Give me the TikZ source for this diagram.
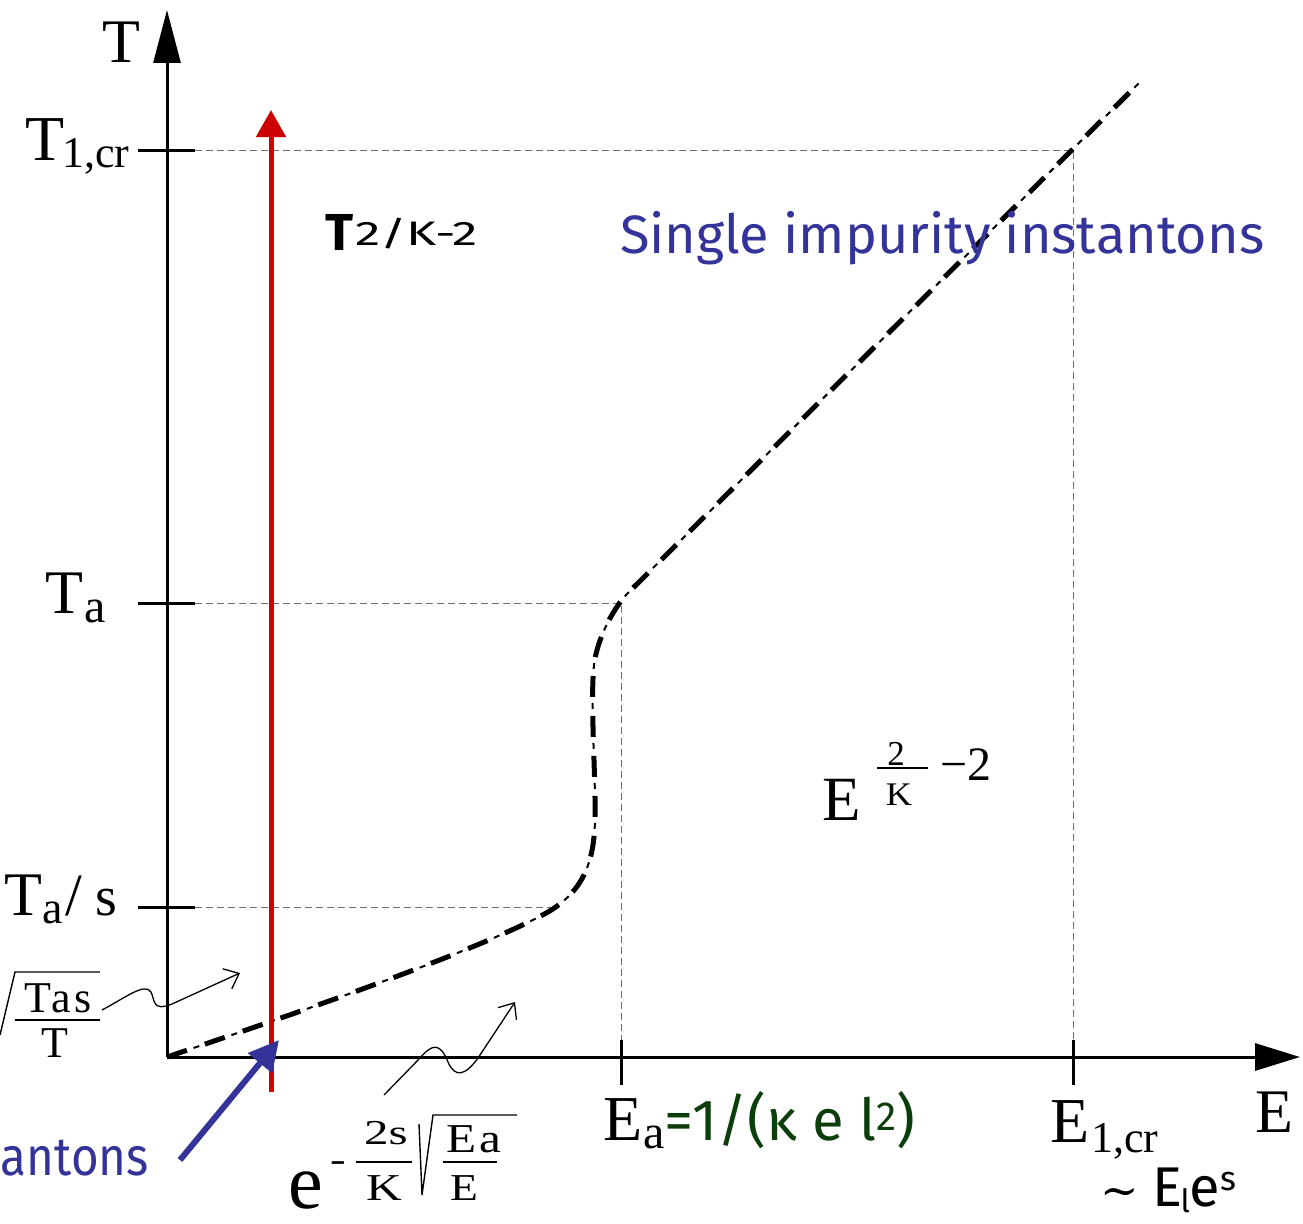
\documentclass[tikz,border=0pt]{standalone}
\usepackage{fontspec}
\setmainfont{Liberation Serif}
\newfontfamily\comic{Fira Sans}
\newfontfamily\dejaser{DejaVu Serif}
\usetikzlibrary{arrows.meta}
\definecolor{myblue}{RGB}{51,51,153}
\definecolor{myred}{RGB}{204,0,0}
\definecolor{mygreen}{RGB}{12,62,12}
\definecolor{guide}{RGB}{110,110,110}
\newcommand\fs[1]{\fontsize{#1}{#1}\selectfont}
\begin{document}
\begin{tikzpicture}[x=1pt,y=-1pt,
  lbl/.style={inner sep=0pt, outer sep=0pt},
  guideline/.style={guide, line width=1pt, dash pattern=on 7pt off 4pt},
  tickmark/.style={line width=3pt},
  thinline/.style={line width=1.4pt},
  axisT/.style={line width=3pt, -{Triangle[length=53pt,width=27pt]}},
  axisE/.style={line width=3pt, -{Triangle[length=45pt,width=27pt]}},
  curvethick/.style={line width=5pt, dash pattern=on 21pt off 19pt},
  curvethin/.style={line width=2pt, dash pattern=on 6pt off 34pt, dash phase=12pt},
  squig/.style={line width=1.3pt, -{Straight Barb[length=13pt,width=22pt,line width=1.3pt]}}
]
\useasboundingbox (0,0) rectangle (1303,1223);
\clip (0,0) rectangle (1303,1223);

% axes
\coordinate (O) at (167,1057);
\coordinate (Ttip) at (167,10);
\coordinate (Etip) at (1300,1057);
\draw[axisT] (O) -- (Ttip);
\draw[axisE] (O) -- (Etip);

% guides
\coordinate (g1a) at (195,150); \coordinate (g1b) at (1073,150); \coordinate (g1c) at (1073,1040);
\coordinate (g2a) at (195,603); \coordinate (g2b) at (621,603); \coordinate (g2c) at (621,1040);
\coordinate (g3a) at (195,907); \coordinate (g3b) at (555,907);
\draw[guideline] (g1a) -- (g1b) -- (g1c);
\draw[guideline] (g2a) -- (g2b) -- (g2c);
\draw[guideline] (g3a) -- (g3b);

% ticks
\coordinate (t1a) at (138,150); \coordinate (t1b) at (195,150);
\coordinate (t2a) at (138,603); \coordinate (t2b) at (195,603);
\coordinate (t3a) at (138,907); \coordinate (t3b) at (195,907);
\coordinate (t4a) at (621,1040); \coordinate (t4b) at (621,1085);
\coordinate (t5a) at (1073,1040); \coordinate (t5b) at (1073,1085);
\draw[tickmark] (t1a) -- (t1b);
\draw[tickmark] (t2a) -- (t2b);
\draw[tickmark] (t3a) -- (t3b);
\draw[tickmark] (t4a) -- (t4b);
\draw[tickmark] (t5a) -- (t5b);

% curve
\draw[curvethick] (167,1057) .. controls (300,1012) and (480,950) .. (548,912)
  .. controls (585,890) and (594,860) .. (595,820)
  .. controls (596,780) and (590,700) .. (594,665)
  .. controls (597,640) and (612,610) .. (627,594) -- (1140,82);
\draw[curvethin] (167,1057) .. controls (300,1012) and (480,950) .. (548,912)
  .. controls (585,890) and (594,860) .. (595,820)
  .. controls (596,780) and (590,700) .. (594,665)
  .. controls (597,640) and (612,610) .. (627,594) -- (1140,82);

% red arrow
\coordinate (r0) at (271,1092); \coordinate (r1) at (271,110);
\draw[myred, line width=5pt, -{Triangle[length=27pt,width=29pt]}] (r0) -- (r1);

% blue arrow
\coordinate (b0) at (180,1160); \coordinate (b1) at (279,1040);
\draw[myblue, line width=6pt, -{Triangle[length=30pt,width=30pt]}] (b0) -- (b1);

% squiggly arrows
\coordinate (s1a) at (102,1010); \coordinate (s1b) at (240,973);
\draw[squig] (s1a) .. controls (125,998) and (145,982) .. (151,992)
  .. controls (155,1000) and (152,1012) .. (172,1004) -- (s1b);
\coordinate (s2a) at (384,1095); \coordinate (s2b) at (515,1002);
\draw[squig] (s2a) -- (420,1058) .. controls (432,1044) and (440,1042) .. (448,1062)
  .. controls (455,1078) and (465,1076) .. (478,1058) -- (s2b);

% axis labels
\node[lbl, anchor=base west] (Tlab) at (102,63) {\fs{62}T};
\node[lbl, anchor=base west] (Elab) at (1255,1132) {\fs{62}E};

% T tick labels
\node[lbl, anchor=base west] (T1cr) at (25,160) {\fs{64}T\kern-2pt\raisebox{-7pt}{\fs{44}1,cr}};
\node[lbl, anchor=base west] (Ta) at (45,613) {\fs{62}T\kern2pt\raisebox{-9pt}{\fs{48}a}};
\node[lbl, anchor=base west] (Tas) at (5,915) {\fs{62}T\raisebox{-8pt}{\fs{46}a}\kern2pt{\fs{60}/}\kern14pt{\fs{56}s}};

% E tick labels
\node[lbl, anchor=base west] (Ea) at (603,1140) {\fs{64}E\kern1pt\raisebox{-8pt}{\fs{48}a}{\comic\fs{58}\color{mygreen}=1/(κ e l\textsuperscript{2})}};
\node[lbl, anchor=base west] (E1cr) at (1050,1142) {\fs{64}E\kern2pt\raisebox{-10pt}{\fs{44}1,cr}};
\node[lbl, anchor=base west] (Ele) at (1100,1206) {{\dejaser\fs{46}∼}\kern14pt{\comic\fs{56}E\kern-2pt\raisebox{-6pt}{\fs{32}l}e\raisebox{16pt}{\fs{34}s}}};

% region labels
\node[lbl, anchor=base west, text=myblue] (single) at (620,253) {\comic\fs{54}Single impurity instantons};
\node[lbl, anchor=base west, text=myblue] (multi) at (1,1175) {\scalebox{0.88}[1]{\comic\fs{54}antons}};
\node[lbl, anchor=base west] (Tpow) at (325,250) {\comic\fs{52}\textbf{T}\kern2pt\raisebox{5pt}{\scalebox{1.5}[1]{\fs{34}2/K-2}}};

% E^{2/K - 2}
\node[lbl, anchor=base west] (Ebig) at (822,820) {\fs{63}E};
\node[lbl, anchor=base] (fnum) at (896,765) {\fs{35}2};
\coordinate (fb0) at (877,768); \coordinate (fb1) at (928,768);
\draw[thinline] (fb0) -- (fb1);
\node[lbl, anchor=base] (fden) at (899,805) {\scalebox{1.1}[1]{\fs{33}K}};
\node[lbl, anchor=base west] (fm2) at (940,780) {\fs{48}−2};

% e^{-2s/K sqrt(Ea/E)}
\node[lbl, anchor=base west] (ebig) at (288,1208) {\fs{78}e};
\node[lbl, anchor=base] (eminus) at (338,1171) {\scalebox{1.3}[1]{\fs{36}-}};
\node[lbl, anchor=base] (n2s) at (386,1144) {\scalebox{1.4}[1]{\fs{35}2s}};
\coordinate (fa0) at (356,1162); \coordinate (fa1) at (412,1162);
\draw[thinline] (fa0) -- (fa1);
\node[lbl, anchor=base] (dK) at (384,1200) {\scalebox{1.3}[1]{\fs{38}K}};
\coordinate (ra) at (419,1124); \coordinate (rb) at (422,1195); \coordinate (rc) at (433,1115); \coordinate (rd) at (517,1115);
\draw[thinline] (ra) -- (rb) -- (rc) -- (rd);
\node[lbl, anchor=base] (nEa) at (474,1152) {\scalebox{1.2}[1]{\fs{41}E\kern3pt a}};
\coordinate (fc0) at (443,1162); \coordinate (fc1) at (497,1162);
\draw[thinline] (fc0) -- (fc1);
\node[lbl, anchor=base] (dE) at (464,1200) {\scalebox{1.2}[1]{\fs{38}E}};

% partial left formula
\coordinate (la) at (0,1035); \coordinate (lb) at (15,972); \coordinate (lc) at (100,972);
\draw[thinline] (la) -- (lb) -- (lc);
\node[lbl, anchor=base west] (lTas) at (24,1012) {\fs{44}T\kern1pt a\kern3pt s};
\coordinate (ld0) at (15,1020); \coordinate (ld1) at (100,1020);
\draw[thinline] (ld0) -- (ld1);
\node[lbl, anchor=base] (lT) at (55,1057) {\fs{44}T};
\end{tikzpicture}
\end{document}
